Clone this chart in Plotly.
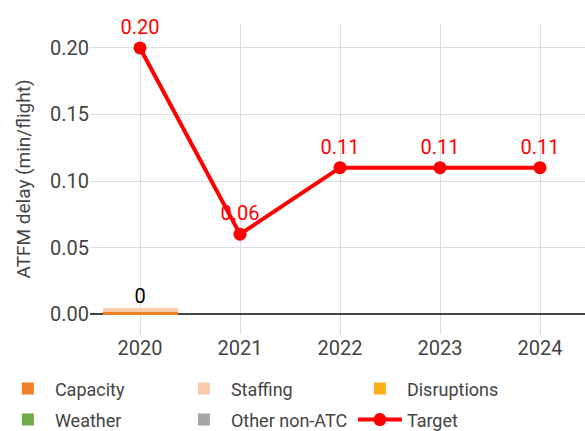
import plotly.graph_objects as go

years = ["2020", "2021", "2022", "2023", "2024"]
capacity = [0.0015, None, None, None, None]
staffing = [0.003, None, None, None, None]
disruptions = [0, None, None, None, None]
weather = [0, None, None, None, None]
other_non_atc = [0, None, None, None, None]
bar_total_labels = ["0", "", "", "", ""]
target = [0.20, 0.06, 0.11, 0.11, 0.11]

FONT = "Roboto"
fig = go.Figure()
series = [("Capacity", capacity, "#F08125", "legend"), ("Staffing", staffing, "#F9CBAA", "legend"),
          ("Disruptions", disruptions, "#FBAE17", "legend"), ("Weather", weather, "#6FAC46", "legend2"),
          ("Other non-ATC", other_non_atc, "#A5A5A5", "legend2")]
for name, vals, col, lg in series:
    fig.add_trace(go.Bar(x=years, y=vals, name=name, marker_color=col, width=0.75,
                         marker_line_width=0, legend=lg))

totals = [sum(v[i] or 0 for _, v, _, _ in series) if capacity[i] is not None else None
          for i in range(len(years))]
fig.add_trace(go.Scatter(x=years, y=totals, mode="text", text=bar_total_labels,
                         textposition="top center", textfont=dict(color="black", size=20, family=FONT),
                         showlegend=False, hoverinfo="skip", cliponaxis=False))

fig.add_trace(go.Scatter(x=years, y=target, name="Target", mode="lines+markers+text",
                         line=dict(color="#FF0000", width=4), marker=dict(size=13, color="#FF0000"),
                         text=[f"{v:.2f}" for v in target], textposition="top center",
                         textfont=dict(color="#FF0000", size=20, family=FONT),
                         cliponaxis=False, legend="legend2"))

leg_common = dict(orientation="h", x=-0.18, xanchor="left", yanchor="middle",
                  entrywidth=117, entrywidthmode="pixels", itemwidth=44,
                  font=dict(size=18, family=FONT, color="#444444"), traceorder="normal",
                  bgcolor="rgba(0,0,0,0)")
fig.update_layout(
    barmode="stack",
    width=585, height=431,
    margin=dict(l=90, r=0, t=24, b=97, autoexpand=False),
    plot_bgcolor="white", paper_bgcolor="white",
    font=dict(family=FONT, size=20, color="#444444"),
    xaxis=dict(type="category", range=[-0.5, 4.45], showgrid=True, gridcolor="#DDDDDD",
               ticks="", tickfont=dict(size=20), automargin=False),
    yaxis=dict(title=dict(text="ATFM delay (min/flight)", font=dict(size=19), standoff=14),
               range=[-0.015, 0.218], tickvals=[0, 0.05, 0.1, 0.15, 0.2], tickformat=".2f",
               showgrid=True, gridcolor="#DDDDDD", zeroline=True, zerolinecolor="#444444",
               zerolinewidth=1.5, ticks="", tickfont=dict(size=20), automargin=False),
    legend=dict(**leg_common, y=-0.177),
    legend2=dict(**leg_common, y=-0.277),
)
fig.write_html("out.html", config={"displayModeBar": False},
               post_script="document.body.style.margin='0';document.body.style.overflow='hidden';")
